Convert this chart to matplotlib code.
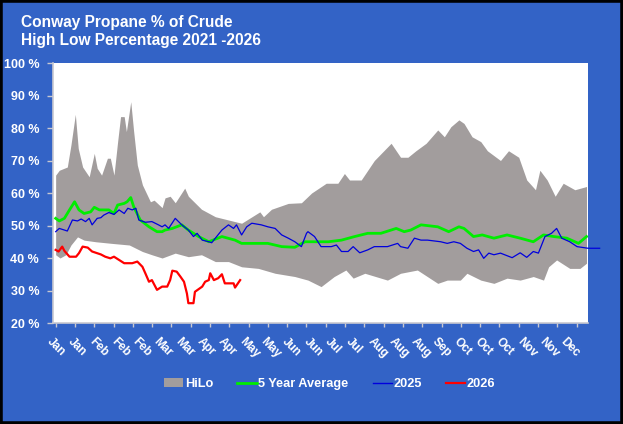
import numpy as np
import matplotlib
matplotlib.use("Agg")
import matplotlib.pyplot as plt
from matplotlib.patches import Patch
from matplotlib.lines import Line2D

# chart values (x = day of year, y = percent)
month_labels = ["Jan", "Jan", "Feb", "Feb", "Feb", "Mar", "Mar", "Apr", "Apr", "May", "May",
                "Jun", "Jun", "Jul", "Jul", "Aug", "Aug", "Aug", "Sep", "Oct", "Oct", "Oct",
                "Nov", "Nov", "Dec"]

hi_day = [0, 2.5, 8, 10.5, 13.5, 15.5, 18.5, 23, 26.5, 28.5, 31.5, 35.5, 37.5, 40, 42.5, 44.5,
          47, 48.5, 51.5, 53.5, 56, 59.5, 65, 67.5, 73, 75, 78.5, 82, 88.5, 91, 100, 109.5,
          118.5, 127.5, 140, 142.5, 148, 159.5, 168.5, 175.5, 185.5, 193.5, 198, 201.5, 209.5,
          218.5, 230, 236.5, 241.5, 247, 254, 262, 266.5, 271, 276.5, 280, 285.5, 291.5, 296,
          305, 310.5, 317.5, 323, 329, 332, 337, 342.5, 348, 356, 364]
hi_val = [65.5, 67, 68, 74.8, 84.2, 73.7, 68, 65, 72.2, 67.6, 65.5, 70.7, 70.7, 65.5, 75.8, 83.5,
          83.5, 78.9, 88.1, 78.9, 68.6, 62.5, 57.3, 57.8, 55.5, 58.5, 59, 57, 61.5, 59, 55, 52.7,
          51.7, 50.7, 54.2, 52.7, 55, 56.8, 57, 60, 63, 63, 66, 64, 64,
          70, 75.3, 71, 71, 73, 75.3, 79.4, 77.3, 80.4, 82.5, 81.4, 77.3, 75.8, 73,
          70, 73, 71, 64, 61, 67, 64, 59, 63, 61, 62]

lo_day = [0, 3, 7, 10.5, 15, 19.5, 27.5, 38.5, 50.5, 59.5, 66, 73, 82, 91, 100, 109.5, 118.5,
          127.5, 139, 150.5, 164, 173, 182, 191, 199, 204, 212, 227.5, 236.5, 248, 262, 268.5,
          277.5, 282, 291.5, 300.5, 309.5, 318.5, 327.5, 334.5, 338, 343.5, 352.5, 359.5, 364]
lo_val = [41, 40, 41, 44, 46.5, 45.5, 45, 44.5, 44, 42, 41, 40, 41.5, 40.4, 41, 38.9, 38.9,
          37.3, 36.8, 35.3, 34.3, 33.2, 31.2, 34.3, 36.3, 33.8, 35.3, 33.2, 35.3, 36.3, 32.2, 33.2,
          33.2, 35.3, 33.2, 32.2, 33.8, 33.2, 34.3, 33.2, 37.3, 39.4, 36.8, 36.8, 38.4]

avg_day = [0, 2.5, 6, 9.5, 13, 16, 19.5, 24, 26.5, 30, 36.5, 40, 42.5, 47, 49, 51.5, 53.5, 58,
           64, 69.5, 73, 75, 80, 86.5, 91, 98, 105, 114, 123, 127.5, 136.5, 145.5, 155, 164,
           171, 175.5, 187, 196, 205, 214, 223, 233.5, 239, 243.5, 250.5, 262, 269.5, 276.5,
           280, 286.5, 292.5, 300.5, 309.5, 318.5, 327.5, 334.5, 341.5, 350.5, 358.5, 364]
avg_val = [52.2, 51.4, 52.2, 54.8, 57.3, 54.8, 53.7, 54.2, 55.6, 54.8, 54.8, 53.7, 56.3, 56.8,
           57.3, 58.6, 55.8, 51.7, 49.6, 48.1, 48.1, 48.6, 49.1, 50.2, 48.6, 46.6, 45, 46.6, 45.5,
           44.5, 44.5, 44.5, 43.5, 43.3, 45, 45, 45, 45.5, 46.6, 47.6, 47.6, 49.1, 48.1, 48.6,
           50.2, 49.6, 48.1, 49.6, 49.1, 46.6, 47.1, 46.1, 47.1, 46.1, 45, 47.1, 46.6, 46.1,
           44.5, 46.6]

y2025_day = [0, 2.5, 6, 8, 11.5, 15, 17.5, 20.5, 23, 25, 28.5, 31, 33, 36.5, 40, 43.5, 47, 49.5,
             52.5, 55, 57, 61.5, 66, 70.5, 73, 75, 77.5, 82, 86.5, 91, 94.5, 97, 100.5, 105,
             107, 109.5, 114, 118.5, 122, 124, 127.5, 131, 134.5, 141, 145.5, 150.5, 155, 159.5,
             164, 168.5, 172, 173, 177.5, 182, 189, 192.5, 196, 200.5, 204, 208.5, 214, 218.5,
             227.5, 234.5, 236.5, 241.5, 246, 250.5, 255, 264, 268.5, 273, 277.5, 282, 286.5,
             290, 293.5, 297, 300.5, 305, 313, 318.5, 323, 327.5, 331, 335.5, 340, 343.5, 347,
             352.5, 357.5, 365, 373]
y2025_val = [48.1, 49.1, 48.6, 48.3, 51.7, 51.4, 52, 51.2, 52.2, 50.2, 52.2, 52.4, 53.2, 54,
             53.4, 54.8, 53.7, 55.3, 54.8, 55.3, 51.7, 51, 51.2, 50.2, 49.6, 50.2, 49.1, 52.2,
             50.2, 48.6, 46.6, 47.6, 45.5, 45, 44.7, 46.1, 48.6, 50.2, 49.1, 50.2, 47.1, 49.6,
             50.7, 50.2, 49.6, 49.1, 47.1, 46.1, 45, 43.5, 47.6, 48.1, 46.6, 43.5, 43.5, 44, 42,
             42, 43.5, 41.6, 42.5, 43.5, 43.5, 44.5, 43.5, 43, 46.1, 45.5, 45.5, 45, 44.5, 45,
             44.5, 43, 42, 42.5, 39.9, 41.5, 41, 41.5, 40.1, 41.6, 40.2, 42, 41.5, 46.6, 47.6,
             49.1, 46.1, 45, 43.5, 43, 43]

y2026_day = [0, 2, 4.5, 6, 9.5, 14, 16, 18.5, 22, 25, 31, 34, 37.5, 40, 43.5, 47, 52.5, 56,
             59.5, 61.5, 64, 66, 69.5, 73, 76.5, 78.5, 80, 83, 85.5, 88, 90, 91, 94.5, 95.5,
             100.5, 102.5, 105, 106, 108.5, 111.5, 114, 116, 122, 123, 126.5]
y2026_val = [42.5, 42, 43.5, 42.2, 40.4, 40.4, 41.5, 43.5, 43.2, 42, 41.1, 40.4, 39.9, 40.4,
             39.4, 38.4, 38.4, 38.9, 37.3, 35.3, 32.7, 33.2, 30.2, 31.2, 31.2, 33.2, 36.1, 35.8,
             34.3, 32.7, 29.1, 26.1, 26.1, 29.6, 31.2, 32.7, 33.2, 35.3, 33.2, 33.8, 35, 32.2,
             32.2, 30.9, 33.2]

BG = "#3363c6"
AXIS_GREY = "#c8c8d0"

fig = plt.figure(figsize=(6.23, 4.24), dpi=100, facecolor=BG)
# black outer frame
fig.patches.append(plt.Rectangle((0, 0), 1, 1, transform=fig.transFigure, fill=False,
                                 edgecolor="black", linewidth=4, zorder=10))

ax = fig.add_axes([0.0851, 0.2382, 0.8587, 0.6132])
ax.set_facecolor("white")

# HiLo band: build it on a common grid from the high and low outlines
grid = np.union1d(hi_day, lo_day)
ax.fill_between(grid, np.interp(grid, lo_day, lo_val), np.interp(grid, hi_day, hi_val),
                color="#a29d9d", linewidth=0, zorder=1)
ax.plot(avg_day, avg_val, color="#00ee00", linewidth=2.0, zorder=3)
ax.plot(y2025_day, y2025_val, color="#0000dd", linewidth=0.9, zorder=4, clip_on=False)
ax.plot(y2026_day, y2026_val, color="#ff0000", linewidth=1.6, zorder=5)

ax.set_xlim(0, 365)
ax.set_ylim(20, 100)

for s in ["top", "right"]:
    ax.spines[s].set_visible(False)
for s in ["left", "bottom"]:
    ax.spines[s].set_color(AXIS_GREY)
    ax.spines[s].set_linewidth(1.2)

yt = np.arange(20, 101, 10)
ax.set_yticks(yt)
ax.set_yticklabels([f"{v} %" for v in yt], color="white", fontweight="bold",
                   fontsize=9, family="Liberation Sans")
ax.tick_params(axis="y", colors=AXIS_GREY, length=4, width=1, pad=6, labelcolor="white")

# tick marks and month labels are on different spacings in the original
ax.set_xticks(np.arange(0, 366, 13.23), minor=True)
ax.tick_params(axis="x", which="minor", length=3, color=AXIS_GREY, width=1)
ax.set_xticks(np.linspace(-1.8, 350.3, len(month_labels)))
ax.set_xticklabels(month_labels, rotation=-45, ha="left", va="top", rotation_mode="anchor",
                   color="white", fontweight="bold", fontsize=8.5, family="Liberation Sans")
ax.tick_params(axis="x", which="major", length=0, pad=9)

fig.text(0.034, 0.937, "Conway Propane % of Crude", color="white", fontsize=11.2,
         fontweight="bold", family="Liberation Sans")
fig.text(0.034, 0.895, "High Low Percentage 2021 -2026", color="white", fontsize=11.2,
         fontweight="bold", family="Liberation Sans")

handles = [Patch(facecolor="#a29d9d", edgecolor="none"),
           Line2D([], [], color="#00ee00", linewidth=2.0),
           Line2D([], [], color="#0000dd", linewidth=1.0),
           Line2D([], [], color="#ff0000", linewidth=1.6)]
leg = fig.legend(handles, ["HiLo", "5 Year Average", "2025", "2026"], loc="center",
                 bbox_to_anchor=(0.529, 0.094), ncol=4, frameon=False, handlelength=1.5,
                 handletextpad=0.12, columnspacing=1.9,
                 prop={"family": "Liberation Sans", "weight": "bold", "size": 9.2})
for t in leg.get_texts():
    t.set_color("white")

fig.savefig("out.png", dpi=100, facecolor=BG)
